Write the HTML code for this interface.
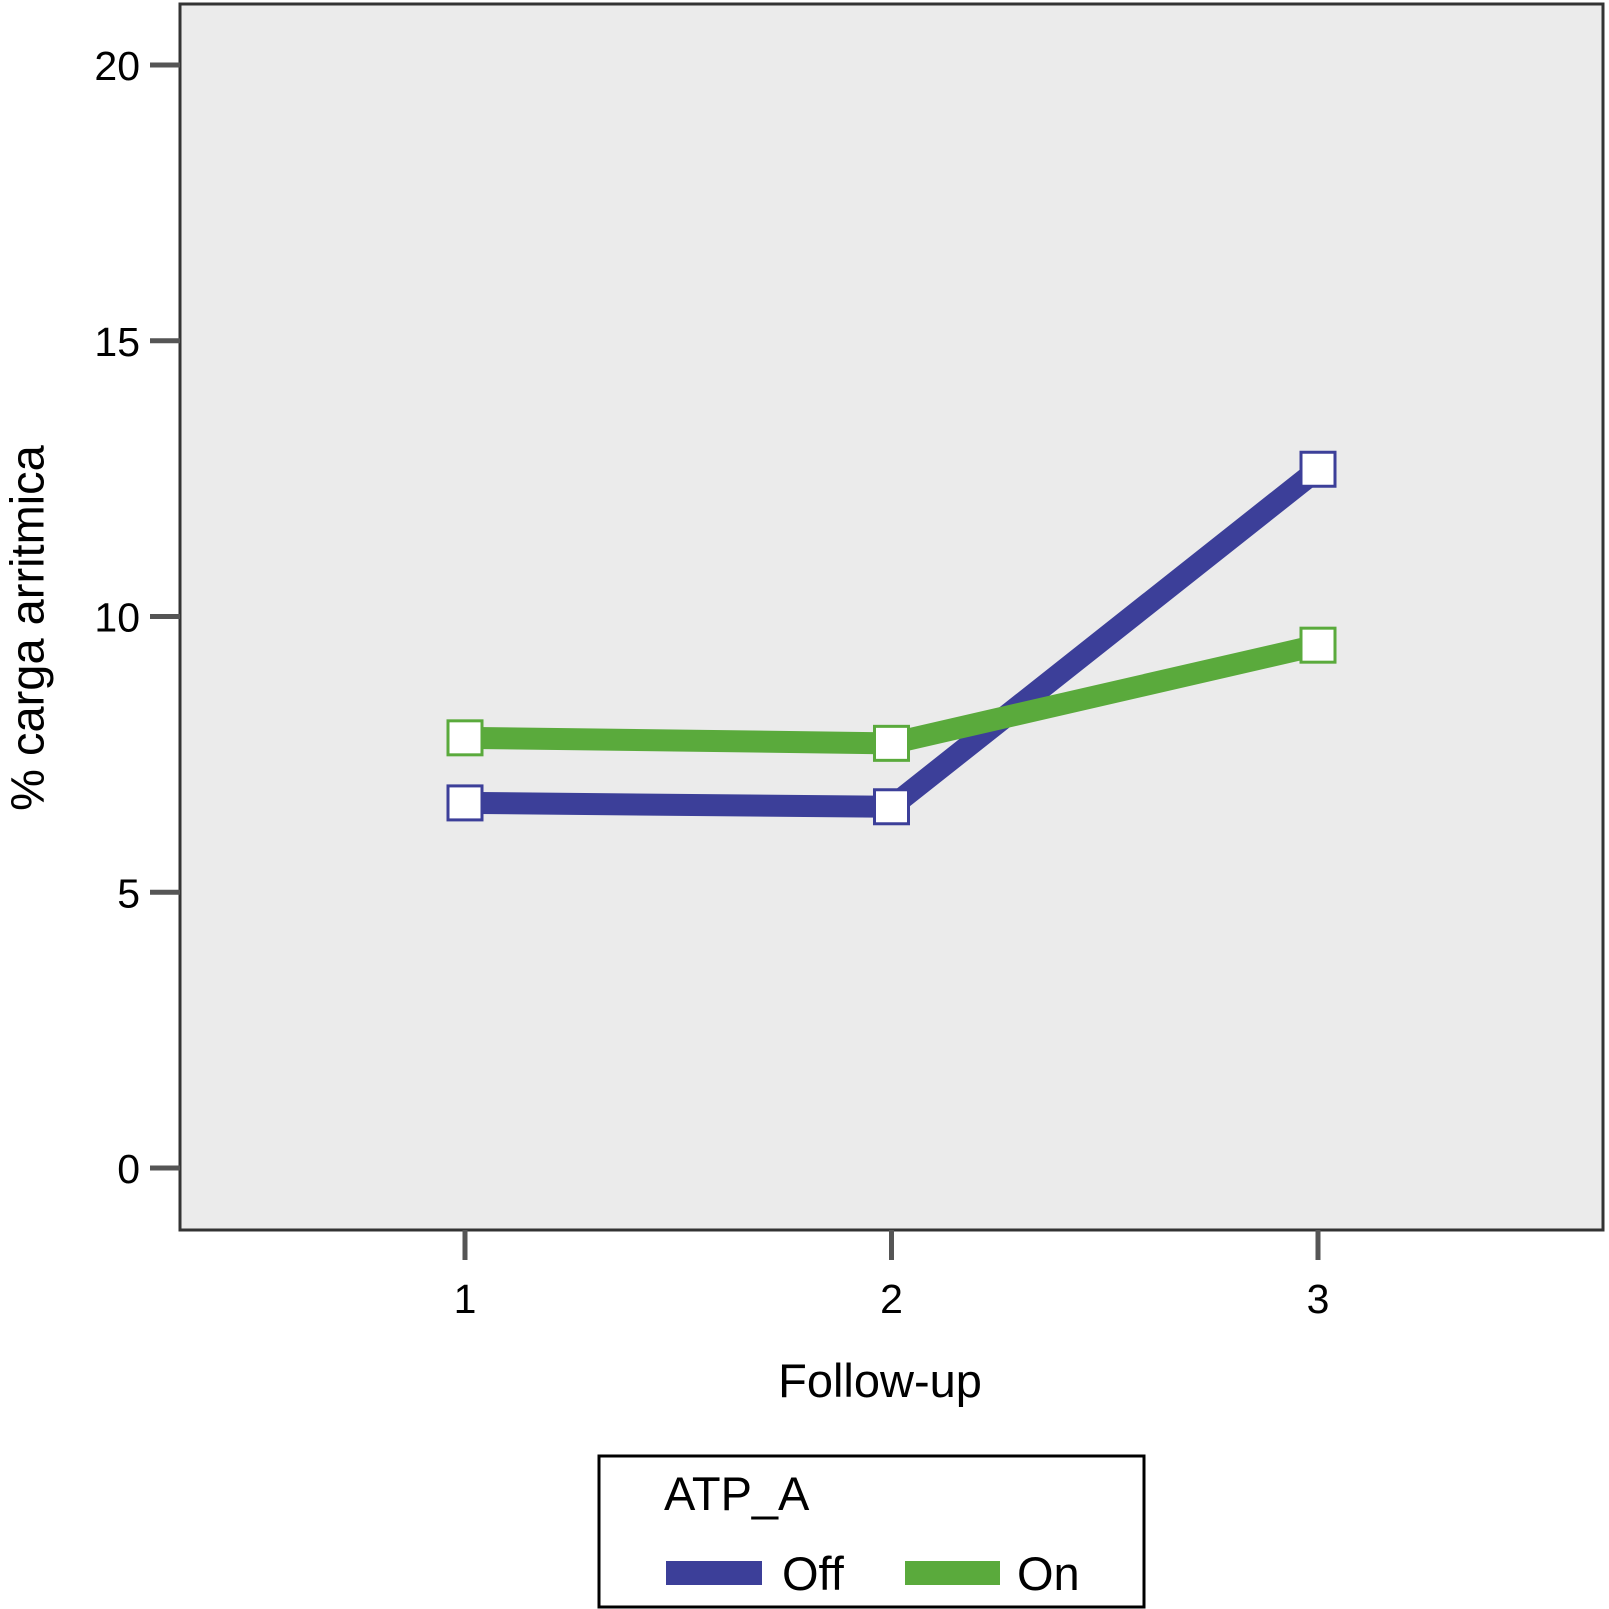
<!DOCTYPE html>
<html><head><meta charset="utf-8"><style>
html,body{margin:0;padding:0;background:#fff;}
svg{display:block;font-family:"Liberation Sans",Arial,sans-serif;}
</style></head><body>
<svg id="chart" width="1609" height="1609" viewBox="0 0 1609 1609">
<rect x="180" y="4" width="1423" height="1226" fill="#ebebeb" stroke="#333" stroke-width="3"/>
<g id="axes"></g>
<g id="series"></g>
<text x="27" y="628" font-size="47" text-anchor="middle" transform="rotate(-90 27 628)" dominant-baseline="central" fill="#000">% carga arritmica</text>
<text x="880" y="1397" font-size="47" text-anchor="middle" fill="#000">Follow-up</text>
<g>
<rect x="599" y="1456" width="545" height="151" fill="#fff" stroke="#000" stroke-width="3"/>
<text x="664" y="1510" font-size="47" fill="#000">ATP_A</text>
<rect x="666" y="1561" width="96" height="24" fill="#3c3f99"/>
<text x="782" y="1590" font-size="47" fill="#000">Off</text>
<rect x="905" y="1561" width="95" height="24" fill="#5aaa3c"/>
<text x="1017" y="1590" font-size="47" fill="#000">On</text>
</g>
</svg>
<script>
const categories = ["1","2","3"];
const offValues = [6.62, 6.55, 12.67];
const onValues = [7.8, 7.7, 9.48];
const yTicks = [0,5,10,15,20];
const NS="http://www.w3.org/2000/svg";
function xScale(i){return 465 + i*426.5;}
function yScale(v){return 1168 - v*55.15;}
const axes=document.getElementById('axes');
const series=document.getElementById('series');
function mk(tag,attrs,parent){const e=document.createElementNS(NS,tag);for(const k in attrs)e.setAttribute(k,attrs[k]);parent.appendChild(e);return e;}
yTicks.forEach(t=>{
  const y=yScale(t);
  const l=mk('line',{x1:150,x2:180,y1:y,y2:y,stroke:'#555','stroke-width':5},axes);
  
  
  const tx=mk('text',{x:140,y:y+15,'font-size':41,'text-anchor':'end',fill:'#000'},axes);
  tx.textContent=t;
  
  
});
categories.forEach((c,i)=>{
  const x=xScale(i);
  const l=mk('line',{x1:x,x2:x,y1:1230,y2:1260,stroke:'#555','stroke-width':5},axes);
  
  
  const tx=mk('text',{x:x,y:1313,'font-size':41,'text-anchor':'middle',fill:'#000'},axes);
  tx.textContent=c;
  
  
});
function drawSeries(vals,color,name){
  const pts=vals.map((v,i)=>xScale(i)+','+yScale(v)).join(' ');
  const pl=mk('polyline',{points:pts,fill:'none',stroke:color,'stroke-width':22,'stroke-linejoin':'miter'},series);
  
  
  vals.forEach((v,i)=>{
    const r=mk('rect',{x:xScale(i)-17,y:yScale(v)-17,width:34,height:34,fill:'#fff',stroke:color,'stroke-width':3},series);
    
    
  });
}
drawSeries(offValues,'#3c3f99','off');
drawSeries(onValues,'#5aaa3c','on');
</script>
</body></html>
